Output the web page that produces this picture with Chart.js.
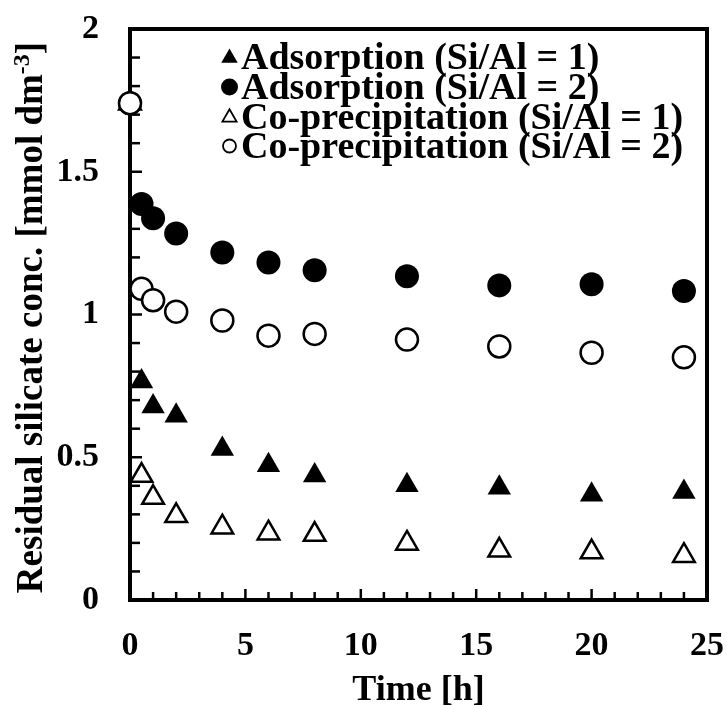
<!DOCTYPE html>
<html>
<head>
<meta charset="utf-8">
<script src="https://cdn.jsdelivr.net/npm/chart.js@4"></script>
<style>
  html, body { margin: 0; padding: 0; background: #fff; }
  #wrap { width: 727px; height: 706px; }
</style>
</head>
<body>
<div id="wrap"><canvas id="chart" width="727" height="706"></canvas></div>
<script>
// sampling times [h]
const times = [0, 0.5, 1, 2, 4, 6, 8, 12, 16, 20, 24];

// residual silicate [mmol dm-3]
const adsSi1 = [1.74, 0.765, 0.678, 0.645, 0.529, 0.472, 0.436, 0.402, 0.393, 0.369, 0.378];
const adsSi2 = [1.74, 1.387, 1.337, 1.284, 1.217, 1.182, 1.155, 1.134, 1.102, 1.106, 1.082];
const copSi1 = [1.74, 0.436, 0.359, 0.295, 0.255, 0.234, 0.229, 0.198, 0.174, 0.168, 0.155];
const copSi2 = [1.74, 1.09, 1.05, 1.01, 0.979, 0.926, 0.932, 0.912, 0.888, 0.866, 0.850];

const seriesLabels = [
  'Adsorption (Si/Al = 1)',
  'Adsorption (Si/Al = 2)',
  'Co-precipitation (Si/Al = 1)',
  'Co-precipitation (Si/Al = 2)'
];

const xTicks = [0, 5, 10, 15, 20, 25];
const yTicks = [0, 0.5, 1, 1.5, 2];

const FONT = '"Liberation Serif", "Times New Roman", serif';

const pts = (ys) => times.map((t, i) => ({ x: t, y: ys[i] }));

// legend marker look per series
const legendMarks = [
  { style: 'triangle', r: 9.5, fill: '#000', bw: 0 },
  { style: 'circle', r: 8.5, fill: '#000', bw: 0 },
  { style: 'triangle', r: 8.2, fill: '#fff', bw: 1.8 },
  { style: 'circle', r: 6.5, fill: '#fff', bw: 1.8 }
];

// frame, inward ticks, y title with superscript, legend
const decor = {
  id: 'decor',
  beforeDatasetsDraw(chart) {
    const { ctx, chartArea: a, scales } = chart;
    ctx.save();
    ctx.strokeStyle = '#000';
    ctx.lineCap = 'butt';

    // minor/major ticks pointing into the plot
    ctx.lineWidth = 2.5;
    for (let v = 1; v < 25; v++) {
      const px = scales.x.getPixelForValue(v);
      const len = v % 5 === 0 ? 11 : 8;
      ctx.beginPath();
      ctx.moveTo(px, a.bottom);
      ctx.lineTo(px, a.bottom - len);
      ctx.stroke();
    }
    for (let k = 1; k < 20; k++) {
      const py = scales.y.getPixelForValue(k / 10);
      const len = k % 5 === 0 ? 12 : 10;
      ctx.beginPath();
      ctx.moveTo(a.left, py);
      ctx.lineTo(a.left + len, py);
      ctx.stroke();
    }

    ctx.lineWidth = 4;
    ctx.strokeRect(a.left, a.top, a.right - a.left, a.bottom - a.top);
    ctx.restore();
  },
  afterDraw(chart) {
    const { ctx, chartArea: a } = chart;
    ctx.save();
    ctx.fillStyle = '#000';

    // y axis title
    const main = 'Residual silicate conc. [mmol dm';
    const sup = '-3';
    const tail = ']';
    ctx.font = 'bold 37px ' + FONT;
    const wMain = ctx.measureText(main).width;
    const wTail = ctx.measureText(tail).width;
    ctx.font = 'bold 24px ' + FONT;
    const wSup = ctx.measureText(sup).width;
    const total = wMain + wSup + wTail;
    ctx.translate(42, (a.top + a.bottom) / 2 + 3);
    ctx.rotate(-Math.PI / 2);
    ctx.textBaseline = 'alphabetic';
    ctx.textAlign = 'left';
    let x0 = -total / 2;
    ctx.font = 'bold 37px ' + FONT;
    ctx.fillText(main, x0, 0);
    ctx.font = 'bold 24px ' + FONT;
    ctx.fillText(sup, x0 + wMain, -13);
    ctx.font = 'bold 37px ' + FONT;
    ctx.fillText(tail, x0 + wMain + wSup, 0);
    ctx.restore();

    // legend
    ctx.save();
    const baselines = [69, 99, 128.5, 158];
    ctx.font = 'bold 38px ' + FONT;
    ctx.textBaseline = 'alphabetic';
    ctx.textAlign = 'left';
    seriesLabels.forEach((label, i) => {
      const m = legendMarks[i];
      const cy = baselines[i] - 12 + (m.style === 'triangle' ? 1 : 0);
      ctx.fillStyle = m.fill;
      ctx.strokeStyle = '#000';
      ctx.lineWidth = m.bw;
      Chart.helpers.drawPoint(ctx, { pointStyle: m.style, radius: m.r, borderWidth: m.bw, rotation: 0 }, 229.5, cy);
      ctx.fillStyle = '#000';
      ctx.fillText(label, 241, baselines[i]);
    });
    ctx.restore();
  }
};

const base = { showLine: false, clip: false, borderColor: '#000' };
const tickFont = { family: FONT, size: 34, weight: 'bold' };

new Chart(document.getElementById('chart'), {
  type: 'scatter',
  data: {
    datasets: [
      Object.assign({}, base, {
        label: seriesLabels[3], data: pts(copSi2), order: 0,
        pointStyle: 'circle', pointRadius: 11, pointBorderWidth: 2.5,
        backgroundColor: '#fff', pointBackgroundColor: '#fff'
      }),
      Object.assign({}, base, {
        label: seriesLabels[1], data: pts(adsSi2), order: 1,
        pointStyle: 'circle', pointRadius: 12, pointBorderWidth: 0,
        backgroundColor: '#000', pointBackgroundColor: '#000'
      }),
      Object.assign({}, base, {
        label: seriesLabels[2], data: pts(copSi1), order: 2,
        pointStyle: 'triangle', pointRadius: 12.5, pointBorderWidth: 2.5,
        backgroundColor: '#fff', pointBackgroundColor: '#fff'
      }),
      Object.assign({}, base, {
        label: seriesLabels[0], data: pts(adsSi1), order: 3,
        pointStyle: 'triangle', pointRadius: 13.5, pointBorderWidth: 0,
        backgroundColor: '#000', pointBackgroundColor: '#000'
      })
    ]
  },
  options: {
    responsive: false,
    animation: false,
    events: [],
    layout: { padding: { left: 0, top: 29, right: 20, bottom: 0 } },
    plugins: { legend: { display: false }, tooltip: { enabled: false } },
    elements: { point: { hoverRadius: 0 } },
    scales: {
      x: {
        type: 'linear', min: 0, max: 25,
        afterFit: (s) => { s.height = 106; s.paddingLeft = 0; s.paddingRight = 0; },
        afterBuildTicks: (s) => { s.ticks = xTicks.map(v => ({ value: v })); },
        grid: { display: false, drawTicks: false },
        border: { display: false },
        ticks: { color: '#000', padding: 26, font: tickFont, maxRotation: 0, callback: (v) => String(v) },
        title: { display: true, text: 'Time [h]', color: '#000', padding: { top: 0, bottom: -6 },
                 font: { family: FONT, size: 36, weight: 'bold' } }
      },
      y: {
        type: 'linear', min: 0, max: 2,
        afterFit: (s) => { s.width = 130; s.paddingTop = 0; s.paddingBottom = 0; },
        afterBuildTicks: (s) => { s.ticks = yTicks.map(v => ({ value: v })); },
        grid: { display: false, drawTicks: false },
        border: { display: false },
        ticks: { color: '#000', padding: 31, font: tickFont, callback: (v) => String(v) }
      }
    }
  },
  plugins: [decor]
});
</script>
</body>
</html>
